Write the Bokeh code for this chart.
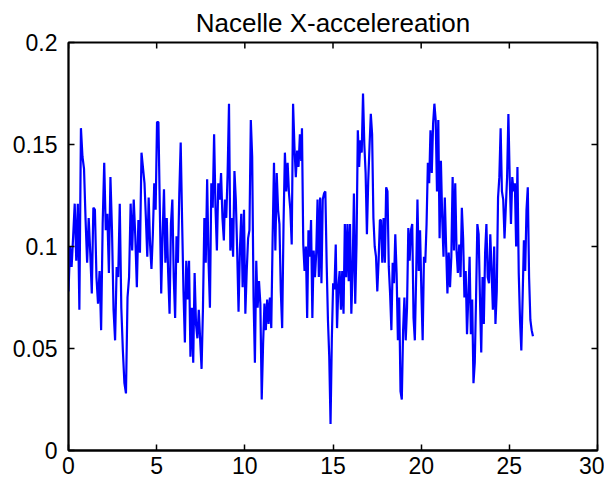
import numpy as np
from bokeh.plotting import figure
from bokeh.models import Range1d, LinearAxis, FixedTicker
from bokeh.embed import file_html
from bokeh.resources import INLINE

title_text = "Nacelle X-accelereation"
x_ticks = [0, 5, 10, 15, 20, 25, 30]
x_tick_labels = ["0", "5", "10", "15", "20", "25", "30"]
y_ticks = [0, 0.05, 0.1, 0.15, 0.2]
y_tick_labels = ["0", "0.05", "0.1", "0.15", "0.2"]
x_limits = (0, 30)
y_limits = (0, 0.2)

# time spans (s) for each traced stretch of the signal
segment_spans = [(0.0, 4.14), (4.31, 8.81), (8.87, 13.20), (13.24, 17.66), (17.72, 22.08), (22.16, 26.34)]

accel_1 = [0.078, 0.100, 0.090, 0.105, 0.121, 0.093, 0.121, 0.069, 0.158, 0.144,
           0.138, 0.113, 0.092, 0.114, 0.097, 0.077, 0.119, 0.118, 0.085, 0.072,
           0.088, 0.059, 0.111, 0.141, 0.108, 0.116, 0.087, 0.134, 0.108, 0.069,
           0.054, 0.090, 0.085, 0.121, 0.070, 0.049, 0.033, 0.028, 0.075, 0.085,
           0.121, 0.098, 0.123, 0.105, 0.080, 0.113, 0.097, 0.146]
accel_2 = [0.131, 0.114, 0.095, 0.124, 0.101, 0.089, 0.106, 0.131, 0.118, 0.161,
           0.161, 0.119, 0.077, 0.106, 0.128, 0.092, 0.114, 0.087, 0.067, 0.111,
           0.123, 0.085, 0.065, 0.105, 0.092, 0.126, 0.151, 0.113, 0.078, 0.053,
           0.093, 0.074, 0.093, 0.046, 0.070, 0.043, 0.087, 0.062, 0.055, 0.069,
           0.054, 0.040, 0.070, 0.114, 0.092, 0.133, 0.093, 0.070, 0.131, 0.119,
           0.155, 0.119, 0.098, 0.131, 0.123, 0.136, 0.114, 0.103]
accel_3 = [0.123, 0.114, 0.136, 0.170, 0.098, 0.114, 0.095, 0.137, 0.123, 0.098,
           0.068, 0.098, 0.116, 0.080, 0.118, 0.067, 0.088, 0.104, 0.108, 0.162,
           0.144, 0.075, 0.043, 0.093, 0.070, 0.083, 0.072, 0.025, 0.052, 0.072,
           0.059, 0.074, 0.062, 0.075, 0.060, 0.104, 0.141, 0.098, 0.136, 0.118,
           0.111, 0.078, 0.060, 0.111, 0.146, 0.127, 0.141, 0.126, 0.118, 0.101,
           0.170, 0.149, 0.134, 0.147, 0.139, 0.155, 0.142]
accel_4 = [0.158, 0.101, 0.088, 0.100, 0.065, 0.108, 0.095, 0.113, 0.065, 0.098,
           0.085, 0.097, 0.123, 0.085, 0.124, 0.082, 0.123, 0.126, 0.127, 0.092,
           0.064, 0.046, 0.013, 0.055, 0.082, 0.079, 0.101, 0.060, 0.080, 0.088,
           0.069, 0.088, 0.067, 0.111, 0.085, 0.111, 0.083, 0.111, 0.067, 0.088,
           0.126, 0.072, 0.101, 0.157, 0.139, 0.152, 0.146, 0.175, 0.150, 0.136,
           0.106, 0.132, 0.149, 0.165, 0.155, 0.114, 0.100, 0.095, 0.078, 0.093,
           0.113]
accel_5 = [0.113, 0.092, 0.114, 0.092, 0.129, 0.127, 0.090, 0.077, 0.059, 0.092,
           0.082, 0.106, 0.087, 0.054, 0.075, 0.029, 0.025, 0.059, 0.075, 0.054,
           0.070, 0.109, 0.093, 0.108, 0.111, 0.065, 0.054, 0.085, 0.123, 0.088,
           0.108, 0.078, 0.054, 0.095, 0.092, 0.111, 0.141, 0.131, 0.157, 0.136,
           0.160, 0.170, 0.162, 0.127, 0.162, 0.104, 0.142, 0.114, 0.095, 0.124,
           0.100, 0.077, 0.097, 0.080, 0.095, 0.134, 0.098, 0.131, 0.098, 0.087]
accel_6 = [0.101, 0.085, 0.119, 0.104, 0.075, 0.088, 0.057, 0.075, 0.095, 0.057,
           0.074, 0.033, 0.043, 0.075, 0.111, 0.106, 0.075, 0.048, 0.085, 0.062,
           0.097, 0.111, 0.085, 0.082, 0.106, 0.088, 0.069, 0.100, 0.062, 0.078,
           0.124, 0.134, 0.158, 0.127, 0.123, 0.104, 0.119, 0.134, 0.165, 0.134,
           0.111, 0.134, 0.127, 0.131, 0.100, 0.139, 0.087, 0.064, 0.049, 0.075,
           0.103, 0.088, 0.118, 0.129, 0.085, 0.064, 0.059, 0.056]

segments = [accel_1, accel_2, accel_3, accel_4, accel_5, accel_6]
t = np.concatenate([np.linspace(a, b, len(v)) for (a, b), v in zip(segment_spans, segments)])
acc = np.concatenate([np.array(v) for v in segments])

FONT = "Liberation Sans"

p = figure(width=604, height=478, output_backend="svg", toolbar_location=None,
           x_range=Range1d(*x_limits), y_range=Range1d(*y_limits),
           min_border_left=68, min_border_right=7, min_border_top=42, min_border_bottom=28,
           x_axis_location=None, y_axis_location=None)
p.grid.visible = False
p.outline_line_color = "black"
p.outline_line_width = 1.8
p.background_fill_color = "white"
p.border_fill_color = "white"

p.title.text = title_text
p.title.align = "center"
p.title.text_font = FONT
p.title.text_font_size = "26px"
p.title.text_font_style = "normal"
p.title.text_color = "black"
p.title.standoff = 10

def make_axis(ticks, labels, standoff):
    ax = LinearAxis(ticker=FixedTicker(ticks=ticks))
    ax.major_label_overrides = {tk: lb for tk, lb in zip(ticks, labels)}
    ax.axis_line_color = "black"
    ax.axis_line_width = 1.8
    ax.major_tick_line_color = "black"
    ax.major_tick_line_width = 1.5
    ax.major_tick_in = 6
    ax.major_tick_out = 0
    ax.minor_tick_line_color = None
    ax.major_label_text_font = FONT
    ax.major_label_text_color = "black"
    ax.major_label_text_font_size = "23px"
    ax.major_label_standoff = standoff
    return ax

p.add_layout(make_axis(x_ticks, x_tick_labels, 6), "below")
p.add_layout(make_axis(y_ticks, y_tick_labels, 11), "left")

# inward tick marks on the top and right edges of the box (clipped to the frame)
p.scatter(x=x_ticks, y=[y_limits[1]] * len(x_ticks), marker="dash", size=12,
          angle=np.pi / 2, line_color="black", line_width=1.5)
p.scatter(x=[x_limits[1]] * len(y_ticks), y=y_ticks, marker="dash", size=12,
          angle=0, line_color="black", line_width=1.5)

p.line(t, acc, line_color="#0000FF", line_width=2.2)

open("out.html", "w").write(file_html(p, INLINE))
